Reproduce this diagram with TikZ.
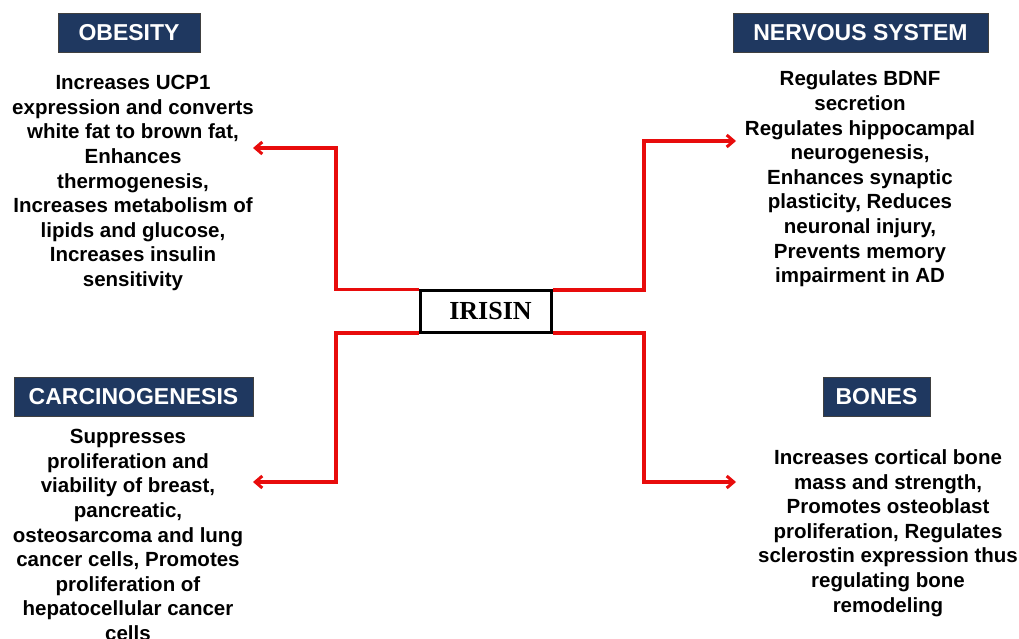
\documentclass[tikz,border=0pt]{standalone}
\usepackage{fontspec}
\setmainfont{Liberation Sans}
\newfontfamily\irisfont{Liberation Serif}
\usetikzlibrary{arrows.meta}
\definecolor{navy}{RGB}{31,56,96}
\definecolor{linkred}{RGB}{232,12,12}
\tikzset{
    header/.style={draw=black!75, line width=0.8pt, fill=navy, text=white,
      font=\fontsize{23}{26}\selectfont\bfseries, minimum height=39pt, inner sep=0pt},
    effects/.style={align=center, inner sep=0pt,
      font=\fontsize{20.5}{24.6}\selectfont\bfseries},
    link/.style={draw=linkred, line width=3.2pt,
      -{Straight Barb[length=7pt,width=12pt,line width=3pt]}},
  }
\begin{document}
\begin{tikzpicture}[x=1pt,y=-1pt]
				  \useasboundingbox (0,0) rectangle (1019,639);
				  %hormone
				  \node[draw, line width=3pt, minimum width=131pt, minimum height=42pt, text depth=0pt,
				        font=\fontsize{26}{30}\irisfont\bfseries] (irisin) at (485.5,311)
				        {\hspace{10pt}IRISIN};
				  %titres
				  \node[header, minimum width=142pt] (obesity) at (129,32.5) {OBESITY};
				  \node[header, minimum width=255pt] (nervous) at (860.5,32.5) {NERVOUS SYSTEM};
				  \node[header, minimum width=239pt] (carcino) at (133.5,396.5) {CARCINOGENESIS};
				  \node[header, minimum width=107pt] (bones) at (876.5,396.5) {BONES};
				  %effets
				  \node[effects] (obtext) at (133,183) {Increases UCP1\\ expression and converts\\
				        white fat to brown fat,\\ Enhances\\ thermogenesis,\\ Increases metabolism of\\
				        lipids and glucose,\\ Increases insulin\\ sensitivity};
				  \node[effects] (nvtext) at (860,179) {Regulates BDNF\\ secretion\\
				        Regulates hippocampal\\ neurogenesis,\\ Enhances synaptic\\
				        plasticity, Reduces\\ neuronal injury,\\ Prevents memory\\ impairment in AD};
				  \node[effects] (catext) at (128,535) {Suppresses\\ proliferation and\\
				        viability of breast,\\ pancreatic,\\ osteosarcoma and lung\\
				        cancer cells, Promotes\\ proliferation of\\ hepatocellular cancer\\ cells};
				  \node[effects] (botext) at (888,533) {Increases cortical bone\\ mass and strength,\\
				        Promotes osteoblast\\ proliferation, Regulates\\ sclerostin expression thus\\
				        regulating bone\\ remodeling};
				  %coudes et pointes
				  \coordinate (tlturn) at (336,148);
				  \coordinate (trturn) at (644,141);
				  \coordinate (blturn) at (336,482);
				  \coordinate (brturn) at (644,482);
				  \coordinate (obtip) at (253,148);
				  \coordinate (nvtip) at (736,141);
				  \coordinate (catip) at (253,482);
				  \coordinate (botip) at (736,482);

				  \draw[link] ([yshift=-0.6pt]irisin.north west) -| (tlturn) -- (obtip);
				  \draw[link] ([yshift=-1.5pt]irisin.north east) -| (trturn) -- (nvtip);
				  \draw[link] ([yshift=0.6pt]irisin.south west) -| (blturn) -- (catip);
				  \draw[link] ([yshift=0.6pt]irisin.south east) -| (brturn) -- (botip);
				  \end{tikzpicture}
\end{document}
